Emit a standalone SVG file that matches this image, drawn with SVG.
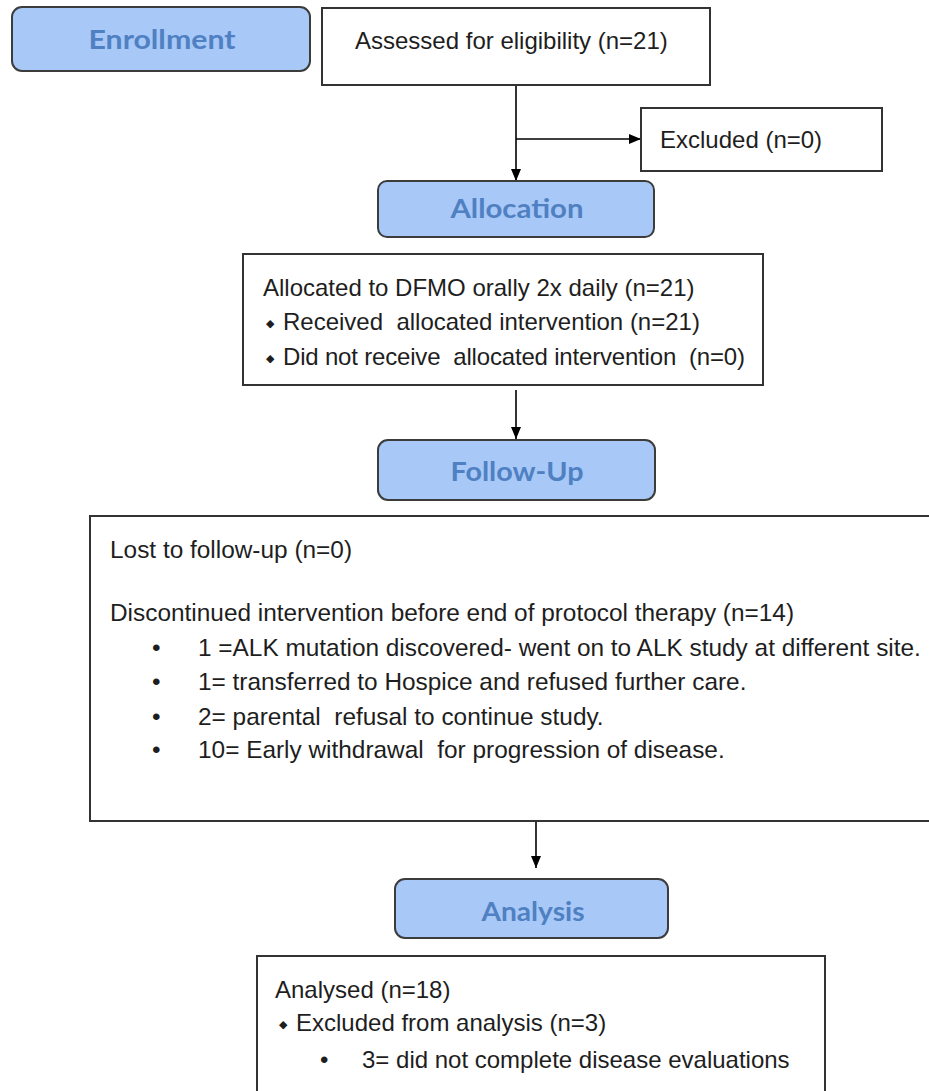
<svg xmlns="http://www.w3.org/2000/svg" width="929" height="1091" viewBox="0 0 929 1091">
  <defs>
    <style>
      .hdr { fill: #a8c8f8; stroke: #3c3c3c; stroke-width: 2; }
      .hdrt { font-family: Lato, "Open Sans", sans-serif; font-weight: bold; font-size: 26px; fill: #4f80c2; text-anchor: middle; }
      .box { fill: #ffffff; stroke: #333333; stroke-width: 2; }
      .t { font-family: "Liberation Sans", Arial, sans-serif; font-size: 24px; fill: #1e1e1e; white-space: pre; }
      .tb { font-size: 24.4px; }
      .dia { font-family: "DejaVu Sans", sans-serif; font-size: 11px; fill: #1e1e1e; }
      .con { stroke: #000000; stroke-width: 1.6; fill: none; marker-end: url(#ah); }
    </style>
    <marker id="ah" markerWidth="12" markerHeight="12" viewBox="0 0 12 12" refX="12" refY="6" orient="auto" markerUnits="userSpaceOnUse">
      <path d="M0,1 L12,6 L0,11 Z" fill="#000000"/>
    </marker>
  </defs>
  <rect x="0" y="0" width="929" height="1091" fill="#ffffff"/>

  <g id="connectors">
    <path class="con" d="M516,85 L516,181"/>
    <path class="con" d="M516,139 L641,139"/>
    <path class="con" d="M516,390 L516,439"/>
    <path class="con" d="M536,821 L536,868"/>
  </g>

  <g id="enrollment">
    <rect class="hdr" x="12" y="7" width="298" height="64" rx="10"/>
    <text class="hdrt" x="162" y="49" textLength="147" lengthAdjust="spacingAndGlyphs">Enrollment</text>
  </g>

  <g id="assessed">
    <rect class="box" x="322" y="8" width="388" height="77"/>
    <text class="t" x="355" y="49">Assessed for eligibility (n=21)</text>
  </g>

  <g id="excluded">
    <rect class="box" x="641" y="108" width="241" height="63"/>
    <text class="t" x="660" y="148">Excluded (n=0)</text>
  </g>

  <g id="allocation">
    <rect class="hdr" x="378" y="181" width="276" height="56" rx="9"/>
    <text class="hdrt" x="517" y="218" textLength="133" lengthAdjust="spacingAndGlyphs">Allocation</text>
  </g>

  <g id="allocated">
    <rect class="box" x="243" y="254" width="520" height="131"/>
    <text class="t" x="263" y="296">Allocated to DFMO orally 2x daily (n=21)</text>
    <text class="dia" x="266" y="327">◆</text>
    <text class="t" x="283" y="330">Received  allocated intervention (n=21)</text>
    <text class="dia" x="266" y="362">◆</text>
    <text class="t" x="283" y="365" textLength="462" lengthAdjust="spacing">Did not receive  allocated intervention  (n=0)</text>
  </g>

  <g id="followup">
    <rect class="hdr" x="378" y="440" width="277" height="60" rx="10"/>
    <text class="hdrt" x="517" y="481" textLength="133" lengthAdjust="spacingAndGlyphs">Follow-Up</text>
  </g>

  <g id="discontinued">
    <rect class="box" x="90" y="516" width="850" height="305"/>
    <text class="t tb" x="110" y="558">Lost to follow-up (n=0)</text>
    <text class="t tb" x="110" y="621">Discontinued intervention before end of protocol therapy (n=14)</text>
    <text class="t tb" x="152" y="656">•</text>
    <text class="t tb" x="198" y="656">1 =ALK mutation discovered- went on to ALK study at different site.</text>
    <text class="t tb" x="152" y="690">•</text>
    <text class="t tb" x="198" y="690">1= transferred to Hospice and refused further care.</text>
    <text class="t tb" x="152" y="725">•</text>
    <text class="t tb" x="198" y="725">2= parental  refusal to continue study.</text>
    <text class="t tb" x="152" y="758">•</text>
    <text class="t tb" x="198" y="758">10= Early withdrawal  for progression of disease.</text>
  </g>

  <g id="analysis">
    <rect class="hdr" x="395" y="879" width="273" height="59" rx="10"/>
    <text class="hdrt" x="533" y="921" textLength="103" lengthAdjust="spacingAndGlyphs">Analysis</text>
  </g>

  <g id="analysed">
    <rect class="box" x="257" y="956" width="568" height="150"/>
    <text class="t" x="275" y="998">Analysed (n=18)</text>
    <text class="dia" x="279" y="1028">◆</text>
    <text class="t" x="296" y="1031">Excluded from analysis (n=3)</text>
    <text class="t" x="320" y="1068">•</text>
    <text class="t" x="362" y="1068">3= did not complete disease evaluations</text>
  </g>
</svg>
